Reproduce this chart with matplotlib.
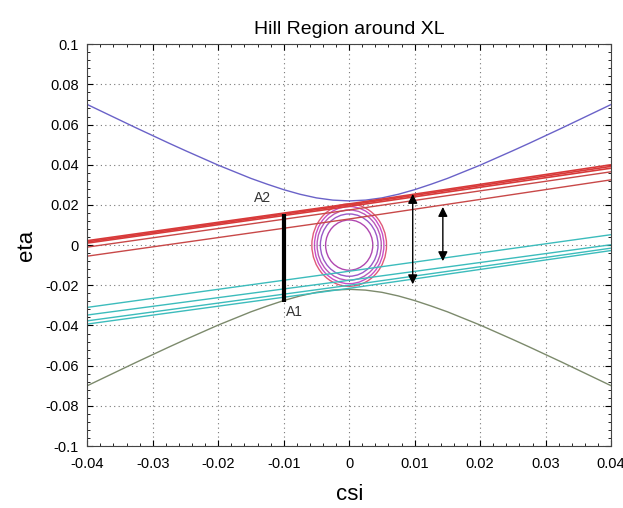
import numpy as np
import matplotlib
matplotlib.use("Agg")
import matplotlib.pyplot as plt
from matplotlib.patches import Ellipse
from matplotlib.ticker import MultipleLocator

plt.rcParams['font.family'] = ['Liberation Sans', 'DejaVu Sans']

# zero-velocity curves (right half; mirrored left)
csi_half = [0.0, 0.0025, 0.005, 0.0075, 0.01, 0.0125, 0.015, 0.0175, 0.02,
            0.0225, 0.025, 0.0275, 0.03, 0.0325, 0.035, 0.0375, 0.04]
eta_half = [0.0220, 0.0224, 0.0235, 0.0253, 0.0276, 0.0303, 0.0332, 0.0365, 0.0398,
            0.0434, 0.0470, 0.0507, 0.0545, 0.0583, 0.0622, 0.0661, 0.0700]
csi_zvc = [-x for x in csi_half[:0:-1]] + csi_half
eta_upper = eta_half[:0:-1] + eta_half
eta_lower = [-v for v in eta_upper]

# straight trajectories, values at csi = -0.04, 0, 0.04
csi_lines = [-0.04, 0.0, 0.04]
red_lines = [
    [0.0022, 0.0205, 0.0400],
    [0.0016, 0.0200, 0.0392],
    [0.0010, 0.0193, 0.0383],
    [-0.0010, 0.0175, 0.0365],
    [-0.0055, 0.0130, 0.0325],
]
cyan_lines = [
    [-0.0310, -0.0130, 0.0052],
    [-0.0348, -0.0175, 0.0002],
    [-0.0377, -0.0200, -0.0015],
    [-0.0393, -0.0215, -0.0027],
]

# closed orbits around XL: (half-width in csi, half-height in eta)
orbit_rx = [0.0057, 0.0053, 0.0049, 0.0044, 0.0036]
orbit_ry = [0.0205, 0.0192, 0.0175, 0.0155, 0.0125]
orbit_colors = ['#e05a78', '#c84fc8', '#b85ab8', '#9a5ac8', '#b048b0']

# section A1-A2 and the two width arrows
sec_csi = -0.01
sec_eta = [-0.0285, 0.0157]
arrow1 = (0.0097, 0.0255, -0.0195)
arrow2 = (0.0143, 0.019, -0.008)

fig = plt.figure(figsize=(6.23, 5.08), dpi=100)
ax = fig.add_axes([0.14, 0.122, 0.841, 0.791])

ax.plot(csi_zvc, eta_upper, color='#6a62c8', lw=1.0)
ax.plot(csi_zvc, eta_lower, color='#7c8a6c', lw=1.0)

for i, vals in enumerate(red_lines):
    ax.plot(csi_lines, vals, color='#d83a3a' if i < 3 else '#c84848', lw=1.2 if i < 3 else 1.0)
for vals in cyan_lines:
    ax.plot(csi_lines, vals, color='#3cbcbc', lw=1.0)

for rx, ry, c in zip(orbit_rx, orbit_ry, orbit_colors):
    ax.add_patch(Ellipse((0, 0), 2 * rx, 2 * ry, fill=False, edgecolor=c, lw=1.0))

ax.plot([sec_csi, sec_csi], sec_eta, color='black', lw=3.0, solid_capstyle='butt')
ax.text(-0.0145, 0.0235, 'A2', fontsize=10, color='#333333', va='center')
ax.text(-0.0097, -0.0335, 'A1', fontsize=10, color='#333333', va='center')

for x, y0, y1 in [arrow1, arrow2]:
    ax.annotate('', xy=(x, y1), xytext=(x, y0),
                arrowprops=dict(arrowstyle='<|-|>', color='black', lw=1.0,
                                mutation_scale=14, shrinkA=0, shrinkB=0))

ax.set_xlim(-0.04, 0.04)
ax.set_ylim(-0.1, 0.1)
ax.set_xticks(np.round(np.arange(-0.04, 0.0401, 0.01), 2))
ax.set_yticks(np.round(np.arange(-0.1, 0.1001, 0.02), 2))
ax.set_xticklabels(['-0.04', '-0.03', '-0.02', '-0.01', '0', '0.01', '0.02', '0.03', '0.04'])
ax.set_yticklabels(['-0.1', '-0.08', '-0.06', '-0.04', '-0.02', '0', '0.02', '0.04', '0.06', '0.08', '0.1'])
ax.xaxis.set_minor_locator(MultipleLocator(0.002))
ax.yaxis.set_minor_locator(MultipleLocator(0.004))
ax.tick_params(which='both', direction='in', top=True, right=True, labelsize=10.5)
ax.tick_params(which='major', length=4)
ax.tick_params(which='minor', length=2)
ax.tick_params(axis='x', pad=8)
ax.tick_params(axis='y', pad=6)
ax.grid(True, which='major', linestyle=(0, (1, 3)), color='#777777', lw=0.8)

for s in ax.spines.values():
    s.set_color('#444444')

ax.set_title('Hill Region around XL', fontsize=14, pad=7)
ax.set_xlabel('csi', fontsize=16, labelpad=9)
ax.set_ylabel('eta', fontsize=16, labelpad=6)

fig.savefig('out.png', dpi=100)
